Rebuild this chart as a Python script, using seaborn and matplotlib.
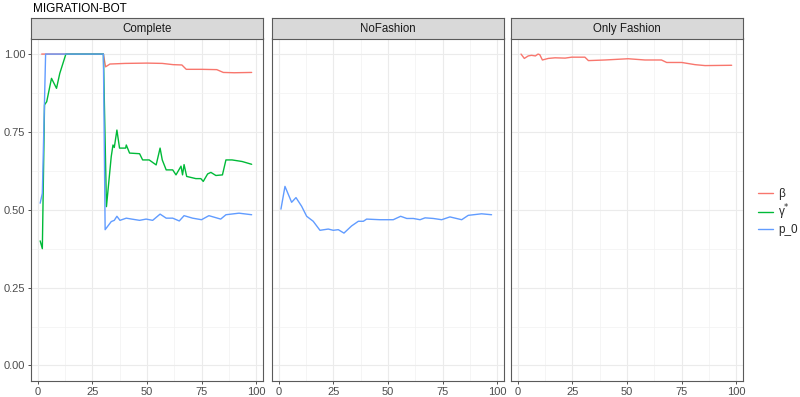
import numpy as np
import pandas as pd
import seaborn as sns
import matplotlib.pyplot as plt
from matplotlib.ticker import MultipleLocator

# values
panels = ["Complete", "NoFashion", "Only Fashion"]
series = ["β", "γ*", "p_0"]
labels = {"β": "β", "γ*": r"γ$^{*}$", "p_0": "p_0"}
colors = {"β": "#F8766D", "γ*": "#00BA38", "p_0": "#619CFF"}

complete_beta_x = [1.7, 30, 31, 33, 40, 50, 57, 62, 66, 68, 75, 82, 85, 90, 98]
complete_beta_y = [1.0, 1.0, 0.959, 0.968, 0.970, 0.971, 0.970, 0.966, 0.965, 0.951, 0.951, 0.950, 0.941, 0.940, 0.941]

complete_gamma_x = [1, 2, 3, 4, 6.2, 8.5, 10, 12.8, 30, 31.4, 33.6, 34.4, 35, 36.2, 37.4,
                    40.2, 40.5, 42, 46.6, 48, 51, 54.2, 56, 57, 58.8, 61.8, 63.3, 65.6,
                    66.3, 67, 68.2, 72.4, 74.7, 75.8, 77.8, 79.3, 81.6, 84.6, 86.2, 89,
                    93.6, 98]
complete_gamma_y = [0.40, 0.375, 0.837, 0.847, 0.922, 0.89, 0.938, 1.0, 1.0, 0.51, 0.671, 0.708,
                    0.70, 0.756, 0.698, 0.698, 0.708, 0.682, 0.68, 0.66, 0.66, 0.644, 0.698,
                    0.66, 0.628, 0.628, 0.612, 0.64, 0.612, 0.645, 0.607, 0.60, 0.60, 0.591,
                    0.615, 0.62, 0.61, 0.612, 0.66, 0.66, 0.655, 0.646]

complete_p0_x = [1, 2, 3.5, 30, 30.8, 33.6, 35, 36.2, 37.6, 40.5, 43, 46.6, 49.6, 52.6, 56,
                 58.8, 61.8, 64.8, 67, 70.9, 75, 78.4, 83.8, 86.2, 92.2, 98]
complete_p0_y = [0.521, 0.553, 1.0, 1.0, 0.436, 0.462, 0.466, 0.479, 0.466, 0.473, 0.470,
                 0.466, 0.47, 0.466, 0.486, 0.473, 0.473, 0.464, 0.481, 0.473, 0.468, 0.481,
                 0.47, 0.484, 0.489, 0.484]

nofashion_p0_x = [0.9, 2.75, 5.8, 7.8, 10.4, 12.7, 15.7, 18.8, 22.6, 24.9, 27.2, 29.8, 33.3,
                  36.4, 38.7, 40.2, 46.3, 52.4, 55.8, 58.6, 61.6, 64.7, 67, 70.8, 74.6, 78.4,
                  83.8, 86.8, 92.9, 97.5]
nofashion_p0_y = [0.502, 0.575, 0.524, 0.539, 0.511, 0.479, 0.463, 0.434, 0.438, 0.434, 0.436,
                  0.425, 0.448, 0.463, 0.463, 0.47, 0.468, 0.468, 0.479, 0.472, 0.472, 0.468,
                  0.474, 0.472, 0.468, 0.477, 0.468, 0.482, 0.487, 0.484]

onlyfashion_beta_x = [1.4, 2.9, 4.7, 6.2, 8.0, 9.2, 10, 11.2, 13.9, 17, 21.6, 24.6, 30.7, 32.3,
                      39.9, 50.5, 58.2, 65.8, 68.2, 75.1, 81.2, 85.8, 98]
onlyfashion_beta_y = [1.0, 0.986, 0.994, 0.996, 0.994, 1.0, 0.998, 0.981, 0.986, 0.988, 0.987,
                      0.99, 0.99, 0.979, 0.981, 0.985, 0.981, 0.981, 0.973, 0.973, 0.966,
                      0.963, 0.964]

frames = [
    pd.DataFrame({"panel": "Complete", "var": "β", "x": complete_beta_x, "y": complete_beta_y}),
    pd.DataFrame({"panel": "Complete", "var": "γ*", "x": complete_gamma_x, "y": complete_gamma_y}),
    pd.DataFrame({"panel": "Complete", "var": "p_0", "x": complete_p0_x, "y": complete_p0_y}),
    pd.DataFrame({"panel": "NoFashion", "var": "p_0", "x": nofashion_p0_x, "y": nofashion_p0_y}),
    pd.DataFrame({"panel": "Only Fashion", "var": "β", "x": onlyfashion_beta_x, "y": onlyfashion_beta_y}),
]
df = pd.concat(frames, ignore_index=True)

sns.set_style("white")
plt.rcParams["font.family"] = ["Liberation Sans", "DejaVu Sans"]

fig = plt.figure(figsize=(8, 3.97), dpi=100)
W, H = 800, 397
lefts = [31, 272, 511]
pw = 232
top, bottom = 38.5, 381
strip_h = 21

for i, (name, left) in enumerate(zip(panels, lefts)):
    ax = fig.add_axes([left / W, (H - bottom) / H, pw / W, (bottom - top) / H])
    sub = df[df["panel"] == name]
    for v in series:
        d = sub[sub["var"] == v]
        if len(d):
            sns.lineplot(data=d, x="x", y="y", color=colors[v], lw=1.0, ax=ax,
                         estimator=None, sort=False)
    ax.set_xlim(-3.2, 103.2)
    ax.set_ylim(-0.05, 1.05)
    ax.xaxis.set_major_locator(MultipleLocator(25))
    ax.xaxis.set_minor_locator(MultipleLocator(12.5))
    ax.yaxis.set_major_locator(MultipleLocator(0.25))
    ax.yaxis.set_minor_locator(MultipleLocator(0.125))
    ax.grid(True, which="major", color="#EBEBEB", lw=0.8)
    ax.grid(True, which="minor", color="#F2F2F2", lw=0.5)
    ax.set_axisbelow(True)
    for s in ax.spines.values():
        s.set_color("#5A5A5A")
        s.set_linewidth(0.8)
    ax.set_xlabel("")
    ax.set_ylabel("")
    ax.tick_params(which="major", length=2.5, width=0.6, color="#333333",
                   labelsize=8, labelcolor="#4D4D4D", pad=1.5, bottom=True, left=(i == 0))
    ax.tick_params(which="minor", length=0)
    ax.xaxis.set_major_formatter(plt.FuncFormatter(lambda v, p: f"{v:.0f}"))
    if i == 0:
        ax.yaxis.set_major_formatter(plt.FuncFormatter(lambda v, p: f"{v:.2f}"))
    else:
        ax.set_yticklabels([])
    # strip
    sax = fig.add_axes([left / W, (H - top) / H, pw / W, strip_h / H])
    sax.set_facecolor("#D9D9D9")
    sax.set_xticks([])
    sax.set_yticks([])
    for s in sax.spines.values():
        s.set_color("#5A5A5A")
        s.set_linewidth(0.8)
    sax.text(0.5, 0.47, name, ha="center", va="center", fontsize=8.3,
             color="#1A1A1A", transform=sax.transAxes)

fig.text(33 / W, 1 - 9 / H, "MIGRATION-BOT", ha="left", va="center", fontsize=8.5, color="black")

handles = [plt.Line2D([], [], color=colors[v], lw=1.0) for v in series]
fig.legend(handles, [labels[v] for v in series], loc="center left",
           bbox_to_anchor=(753 / W, 1 - 212 / H), frameon=False, fontsize=8.5,
           handlelength=1.3, handletextpad=0.4, labelspacing=0.2, borderaxespad=0)

fig.savefig("out.png", dpi=100)
